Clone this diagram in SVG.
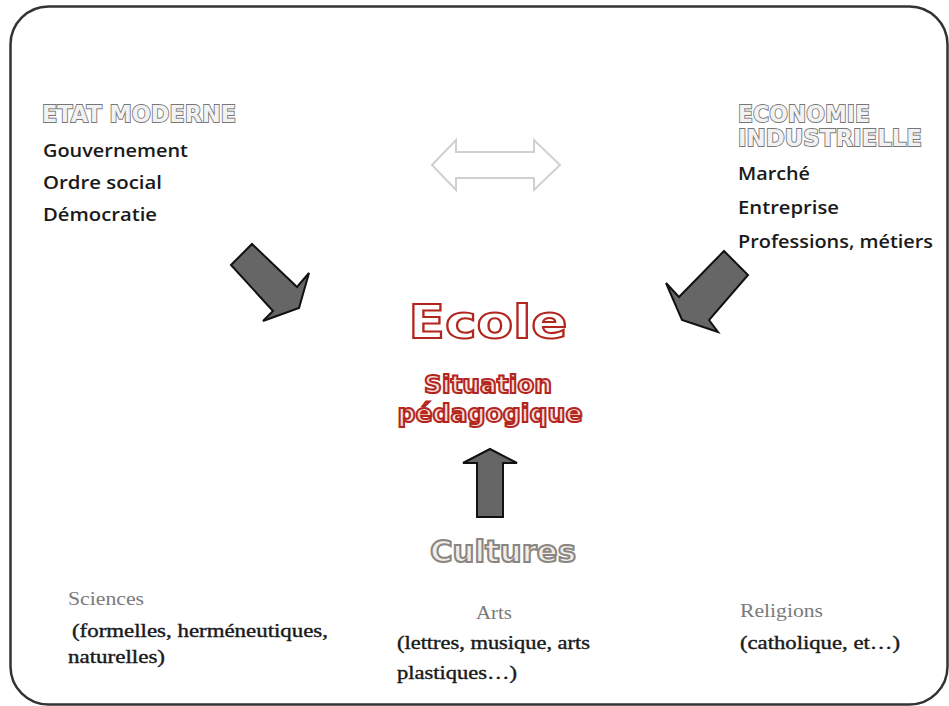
<svg xmlns="http://www.w3.org/2000/svg" width="949" height="706" viewBox="0 0 949 706">
<style>
.frame{fill:#fff;stroke:#333;stroke-width:2.5}
.head{font-family:"DejaVu Sans",sans-serif;font-weight:bold;font-size:23px;fill:#f2f2f2;stroke:#777;stroke-width:1.8;paint-order:stroke}
.item{font-family:"Open Sans","Noto Sans",sans-serif;font-size:18px;font-weight:600;fill:#1a1a1a}
.arrow{fill:#666;stroke:#111;stroke-width:2;stroke-linejoin:miter}
.red{font-family:"DejaVu Sans",sans-serif;font-weight:bold;fill:#fff;stroke:#b3261e;stroke-width:2}
.cult{font-family:"DejaVu Sans",sans-serif;font-weight:bold;font-size:31px;fill:#f0eeea;stroke:#8a8580;stroke-width:2}
.ser{font-family:"Liberation Serif","DejaVu Serif",serif;font-size:19px}
.gray{fill:#7a7a7a}
.dark{fill:#1a1a1a;stroke:#1a1a1a;stroke-width:0.4}
</style>
<rect class="frame" x="10.5" y="6.5" width="937" height="698" rx="38"/>
<g id="etat">
<text class="head" x="42" y="122" textLength="194" lengthAdjust="spacingAndGlyphs">ETAT MODERNE</text>
<text class="item" x="43" y="157" textLength="145" lengthAdjust="spacingAndGlyphs">Gouvernement</text>
<text class="item" x="43" y="189" textLength="119" lengthAdjust="spacingAndGlyphs">Ordre social</text>
<text class="item" x="43" y="221" textLength="114" lengthAdjust="spacingAndGlyphs">Démocratie</text>
</g>
<g id="economie">
<text class="head" x="738" y="122" textLength="132" lengthAdjust="spacingAndGlyphs">ECONOMIE</text>
<text class="head" x="738" y="146" textLength="184" lengthAdjust="spacingAndGlyphs">INDUSTRIELLE</text>
<text class="item" x="738" y="180" textLength="72" lengthAdjust="spacingAndGlyphs">Marché</text>
<text class="item" x="738" y="214" textLength="101" lengthAdjust="spacingAndGlyphs">Entreprise</text>
<text class="item" x="738" y="248" textLength="195" lengthAdjust="spacingAndGlyphs">Professions, métiers</text>
</g>
<g id="ecole">
<text class="red" x="488" y="338" font-size="46" text-anchor="middle" textLength="159" lengthAdjust="spacingAndGlyphs">Ecole</text>
<text class="red" x="488" y="393" font-size="25" stroke-width="1.8" text-anchor="middle" textLength="128" lengthAdjust="spacingAndGlyphs" style="fill:#f6dcd6">Situation</text>
<text class="red" x="490" y="422" font-size="25" stroke-width="1.8" text-anchor="middle" textLength="185" lengthAdjust="spacingAndGlyphs" style="fill:#f6dcd6">pédagogique</text>
</g>
<g id="cultures">
<text class="cult" x="503" y="562" text-anchor="middle" textLength="146" lengthAdjust="spacingAndGlyphs">Cultures</text>
</g>
<g id="sciences">
<text class="ser gray" x="68" y="605" textLength="76" lengthAdjust="spacingAndGlyphs">Sciences</text>
<text class="ser dark" x="72" y="637" textLength="256" lengthAdjust="spacingAndGlyphs">(formelles, herméneutiques,</text>
<text class="ser dark" x="68" y="663" textLength="97" lengthAdjust="spacingAndGlyphs">naturelles)</text>
</g>
<g id="arts">
<text class="ser gray" x="476" y="619" textLength="36" lengthAdjust="spacingAndGlyphs">Arts</text>
<text class="ser dark" x="397" y="649" textLength="193" lengthAdjust="spacingAndGlyphs">(lettres, musique, arts</text>
<text class="ser dark" x="397" y="679" textLength="120" lengthAdjust="spacingAndGlyphs">plastiques…)</text>
</g>
<g id="religions">
<text class="ser gray" x="740" y="617" textLength="83" lengthAdjust="spacingAndGlyphs">Religions</text>
<text class="ser dark" x="740" y="649" textLength="160" lengthAdjust="spacingAndGlyphs">(catholique, et…)</text>
</g>
<g id="connectors">
<polygon points="432,165 456,140 456,152 534,152 534,140 560,165 534,190 534,178 456,178 456,190" fill="#fff" stroke="#d0d0d0" stroke-width="2"/>
<polygon class="arrow" points="231,265 252,244 297,287 309,273 299,308 263,321 273,311"/>
<polygon class="arrow" points="724,251 748,275 709,320 718,332 682,320 666,283 679,297"/>
<polygon class="arrow" points="490,449 517,463 503,463 503,517 477,517 477,463 463,463"/>
</g>
</svg>
